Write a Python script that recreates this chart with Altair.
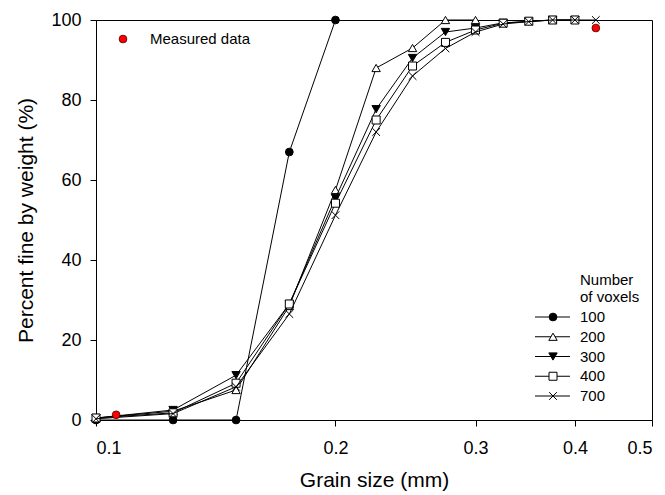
import altair as alt
import pandas as pd

# ---- data ----
grain = [0.1, 0.125, 0.15, 0.175, 0.2, 0.225, 0.25, 0.275, 0.3, 0.325, 0.35, 0.375, 0.4, 0.425]
v100 = [0, 0, 0, 67, 100]
v200 = [0.5, 2.2, 7.5, 28.5, 57.5, 88, 93, 100, 100]
v300 = [0.5, 2.5, 11.2, 29, 55.5, 77.7, 90.5, 97, 98, 99.3, 99.6, 100, 100]
v400 = [0.5, 1.8, 9.2, 29, 54.2, 75, 88.5, 94.4, 97.5, 99.2, 99.7, 100, 100]
v700 = [0.3, 1.6, 8.3, 26.5, 51.2, 72, 86, 92.9, 97, 99, 99.6, 100, 100, 100]
measured_x = [0.106, 0.425]
measured_y = [1.3, 98]
series_names = ["100", "200", "300", "400", "700"]
series_values = [v100, v200, v300, v400, v700]
legend_title = ["Number", "of voxels"]
measured_label = ["Measured data"]
x_ticks = [0.1, 0.2, 0.3, 0.4, 0.5]
y_ticks = [0, 20, 40, 60, 80, 100]

FONT = "Liberation Sans"
XPATH = "M-1,-1L1,1M-1,1L1,-1"
styles = {
    "100": dict(shape="circle", fill="black", size=60),
    "200": dict(shape="triangle-up", fill="white", size=70),
    "300": dict(shape="triangle-down", fill="black", size=70),
    "400": dict(shape="square", fill="white", size=64),
    "700": dict(shape=XPATH, fill=None, size=60),
}

x_enc = alt.X("size:Q",
              scale=alt.Scale(type="log", domain=[0.1, 0.5]),
              axis=alt.Axis(values=x_ticks, format=".1f", title="Grain size (mm)",
                            tickSize=6, labelPadding=13, titlePadding=12,
                            labelFontSize=18, titleFontSize=21))
y_enc = alt.Y("pct:Q",
              scale=alt.Scale(domain=[0, 100]),
              axis=alt.Axis(values=y_ticks, title="Percent fine by weight (%)",
                            tickSize=6, labelPadding=9, titlePadding=14,
                            labelFontSize=18, titleFontSize=21))


def point_kw(st):
    if st["fill"] is None:
        return dict(shape=st["shape"], filled=False, stroke="black", strokeWidth=1,
                    size=st["size"], opacity=1)
    return dict(shape=st["shape"], filled=True, fill=st["fill"], stroke="black",
                strokeWidth=1, size=st["size"], opacity=1)


layers = []
for name, vals in zip(series_names, series_values):
    df = pd.DataFrame({"size": grain[:len(vals)], "pct": vals, "series": name})
    base = alt.Chart(df)
    layers.append(base.mark_line(color="black", strokeWidth=1).encode(x=x_enc, y=y_enc))
    layers.append(base.mark_point(**point_kw(styles[name])).encode(x=x_enc, y=y_enc))

mdf = pd.DataFrame({"size": measured_x, "pct": measured_y})
layers.append(alt.Chart(mdf).mark_point(shape="circle", filled=True, fill="#ff0000",
                                        stroke="#400000", strokeWidth=0.8, size=60,
                                        opacity=1).encode(x=x_enc, y=y_enc))

# ---- legends (drawn in pixel space) ----
ml = pd.DataFrame({"label": measured_label})
layers.append(alt.Chart(ml).mark_point(shape="circle", filled=True, fill="#ff0000",
                                       stroke="#400000", strokeWidth=0.8, size=60,
                                       opacity=1).encode(x=alt.value(27), y=alt.value(19)))
layers.append(alt.Chart(ml).mark_text(align="left", baseline="middle", fontSize=15,
                                      font=FONT, color="black").encode(
    x=alt.value(54), y=alt.value(19), text="label:N"))

for j, t in enumerate(legend_title):
    layers.append(alt.Chart(pd.DataFrame({"label": [t]})).mark_text(
        align="left", baseline="middle", fontSize=15, font=FONT, color="black").encode(
        x=alt.value(484), y=alt.value(260 + 17 * j), text="label:N"))

for i, name in enumerate(series_names):
    yy = 297 + 19.75 * i
    ldf = pd.DataFrame({"label": [name]})
    layers.append(alt.Chart(ldf).mark_rule(color="black", strokeWidth=1).encode(
        x=alt.value(439), x2=alt.value(474), y=alt.value(yy)))
    layers.append(alt.Chart(ldf).mark_point(**point_kw(styles[name])).encode(
        x=alt.value(457), y=alt.value(yy)))
    layers.append(alt.Chart(ldf).mark_text(align="left", baseline="middle", fontSize=15,
                                           font=FONT, color="black").encode(
        x=alt.value(484), y=alt.value(yy), text="label:N"))

chart = alt.layer(*layers).properties(
    width=556, height=400,
    autosize=alt.AutoSizeParams(type="none"),
    padding={"left": 96, "top": 20, "right": 13, "bottom": 75},
    background="white",
).configure_view(stroke="black", strokeWidth=1).configure_axis(
    grid=False, domainColor="black", tickColor="black", labelColor="black",
    titleColor="black", labelFont=FONT, titleFont=FONT, titleFontWeight="normal",
    domainWidth=1, tickWidth=1,
)

chart.save("out.html", embed_options={"renderer": "svg", "actions": False})
